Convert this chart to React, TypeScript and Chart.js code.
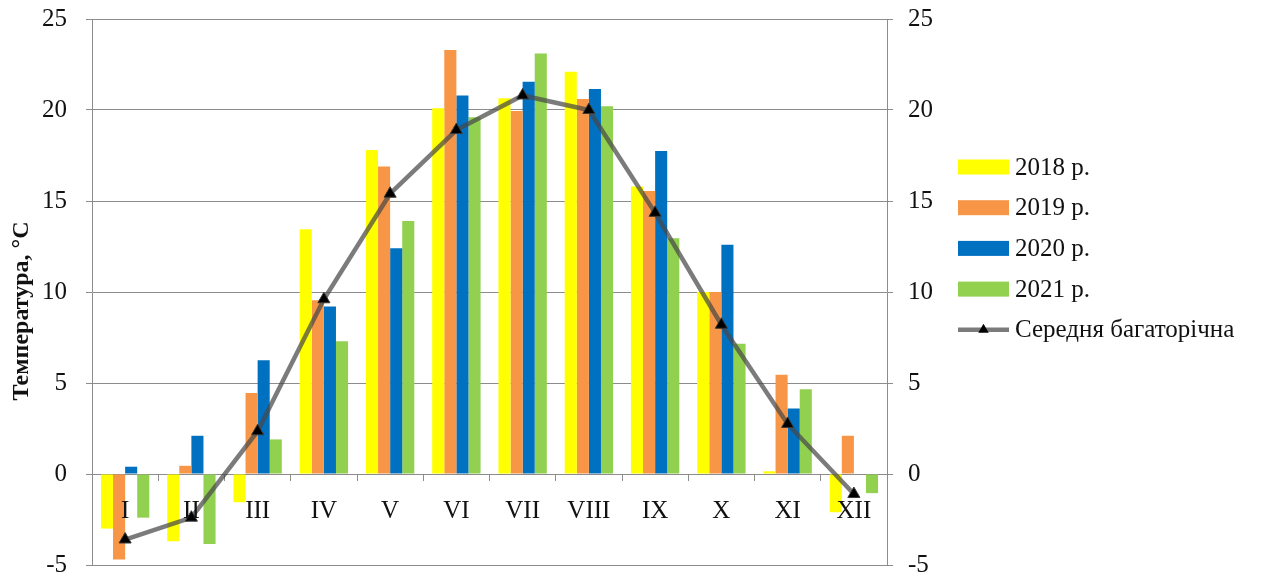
import React, { useEffect, useRef } from "react";
import { Chart, registerables } from "chart.js";

Chart.register(...registerables);

// Months (Roman numerals)
const months = ["I", "II", "III", "IV", "V", "VI", "VII", "VIII", "IX", "X", "XI", "XII"];

// Mean monthly air temperature, °C
const t2018 = [-3.0, -3.7, -1.55, 13.45, 17.8, 20.1, 20.65, 22.1, 15.8, 10.0, 0.15, -2.1];
const t2019 = [-4.7, 0.45, 4.45, 9.55, 16.9, 23.3, 19.95, 20.6, 15.55, 10.0, 5.45, 2.1];
const t2020 = [0.4, 2.1, 6.25, 9.2, 12.4, 20.8, 21.55, 21.15, 17.75, 12.6, 3.6, 0];
const t2021 = [-2.4, -3.85, 1.9, 7.3, 13.9, 19.6, 23.1, 20.2, 12.95, 7.15, 4.65, -1.05];
const tMean = [-3.6, -2.4, 2.35, 9.6, 15.4, 18.9, 20.8, 20.0, 14.35, 8.2, 2.75, -1.1];

const seriesLabels = ["2018 р.", "2019 р.", "2020 р.", "2021 р.", "Середня багаторічна"];
const yTitle = "Температура, °С";

const FONT = "'Liberation Serif', 'Times New Roman', serif";
const GRID = "#8c8c8c";
const TEXT = "#111111";

// Y-axis title drawn in the left margin
const yTitlePlugin = {
  id: "yTitleLeft",
  afterDraw(chart: any) {
    const ctx = chart.ctx;
    ctx.save();
    ctx.translate(22, 311);
    ctx.rotate(-Math.PI / 2);
    ctx.font = `bold 24px ${FONT}`;
    ctx.fillStyle = TEXT;
    ctx.textAlign = "center";
    ctx.textBaseline = "middle";
    ctx.fillText(yTitle, 0, 0);
    ctx.restore();
  },
};

// Legend on the right, built from the datasets
const legendPlugin = {
  id: "sideLegend",
  afterDraw(chart: any) {
    const ctx = chart.ctx;
    const x0 = 958;
    const boxW = 51;
    const boxH = 15;
    const y0 = 167;
    const step = 40.7;
    ctx.save();
    ctx.font = `25px ${FONT}`;
    ctx.textBaseline = "middle";
    ctx.textAlign = "left";
    chart.data.datasets.forEach((ds: any, i: number) => {
      const cy = y0 + i * step;
      if (ds.type === "line") {
        ctx.strokeStyle = ds.borderColor;
        ctx.lineWidth = 4.5;
        ctx.beginPath();
        ctx.moveTo(x0, cy);
        ctx.lineTo(x0 + boxW, cy);
        ctx.stroke();
        const cx = x0 + boxW / 2;
        const r = 6;
        ctx.fillStyle = ds.pointBackgroundColor;
        ctx.beginPath();
        ctx.moveTo(cx, cy - r);
        ctx.lineTo(cx + r * 0.87, cy + r * 0.5);
        ctx.lineTo(cx - r * 0.87, cy + r * 0.5);
        ctx.closePath();
        ctx.fill();
      } else {
        ctx.fillStyle = ds.backgroundColor;
        ctx.fillRect(x0, cy - boxH / 2, boxW, boxH);
      }
      ctx.fillStyle = TEXT;
      ctx.fillText(ds.label, x0 + boxW + 6, cy + 1);
    });
    ctx.restore();
  },
};

export default function App() {
  const canvasRef = useRef<HTMLCanvasElement | null>(null);

  useEffect(() => {
    document.body.style.margin = "0";
    const canvas = canvasRef.current;
    if (!canvas) return;

    const barDs = (label: string, data: number[], color: string) => ({
      type: "bar" as const,
      label,
      data,
      backgroundColor: color,
      borderWidth: 0,
      categoryPercentage: 0.73,
      barPercentage: 1.0,
      yAxisID: "y",
      order: 1,
    });

    const chart = new Chart(canvas, {
      type: "bar",
      data: {
        labels: months,
        datasets: [
          barDs(seriesLabels[0], t2018, "#FFFF00"),
          barDs(seriesLabels[1], t2019, "#F79646"),
          barDs(seriesLabels[2], t2020, "#0070C0"),
          barDs(seriesLabels[3], t2021, "#92D050"),
          {
            type: "line" as const,
            label: seriesLabels[4],
            data: tMean,
            borderColor: "rgba(72,72,72,0.72)",
            borderWidth: 4.5,
            tension: 0,
            pointStyle: "triangle",
            pointRadius: 7,
            pointBackgroundColor: "#000000",
            pointBorderColor: "#3a3a3a",
            pointBorderWidth: 1,
            yAxisID: "y",
            order: 0,
          } as any,
        ],
      },
      options: {
        responsive: false,
        animation: false,
        layout: { padding: { left: 0, right: 324, top: 19, bottom: 9 } },
        plugins: {
          legend: { display: false },
          tooltip: { enabled: false },
          title: { display: false },
        },
        scales: {
          x: {
            type: "category",
            position: { y: 0 } as any,
            offset: true,
            grid: {
              display: true,
              drawOnChartArea: false,
              drawTicks: true,
              tickLength: 6,
              color: GRID,
              offset: true,
            },
            border: { display: true, color: GRID, width: 1 },
            ticks: {
              z: 1,
              color: TEXT,
              font: { family: FONT, size: 25 },
              padding: 16,
              maxRotation: 0,
              autoSkip: false,
            },
          },
          y: {
            position: "left",
            min: -5,
            max: 25,
            ticks: {
              stepSize: 5,
              color: TEXT,
              font: { family: FONT, size: 25 },
              padding: 19,
            },
            grid: { color: GRID, lineWidth: 1, tickLength: 6, drawTicks: true },
            border: { display: true, color: GRID, width: 1 },
            afterFit(scale: any) {
              scale.width = 92;
              scale.paddingTop = 0;
              scale.paddingBottom = 0;
            },
          },
          y2: {
            position: "right",
            min: -5,
            max: 25,
            ticks: {
              stepSize: 5,
              color: TEXT,
              font: { family: FONT, size: 25 },
              padding: 15,
            },
            grid: { drawOnChartArea: false, color: GRID, tickLength: 6, drawTicks: true },
            border: { display: true, color: GRID, width: 1 },
            afterFit(scale: any) {
              scale.width = 70;
              scale.paddingTop = 0;
              scale.paddingBottom = 0;
            },
          },
        },
      },
      plugins: [yTitlePlugin, legendPlugin],
    });

    return () => chart.destroy();
  }, []);

  return (
    <div style={{ width: 1281, height: 574, background: "#ffffff" }}>
      <canvas ref={canvasRef} width={1281} height={574} style={{ display: "block" }} />
    </div>
  );
}
